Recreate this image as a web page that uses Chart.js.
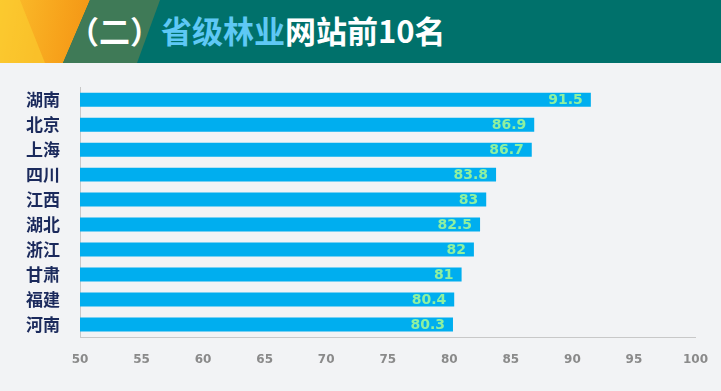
<!DOCTYPE html>
<html>
<head>
<meta charset="utf-8">
<script src="https://cdn.jsdelivr.net/npm/chart.js@4"></script>
<style>
    html, body { margin: 0; padding: 0; }
    body { width: 721px; height: 391px; background: #f2f3f5; position: relative; overflow: hidden; font-family: "Noto Sans CJK SC", sans-serif; }
    #header { position: absolute; left: 0; top: 0; width: 721px; height: 63px; background: #00716b; overflow: hidden; z-index: 2; }
    .deco { position: absolute; top: 0; height: 63px; }
    #d1 { left: 0; width: 100px; background: linear-gradient(100deg, #fbc02d, #f7a21b 60%, #f28f12); clip-path: polygon(0 0, 90px 0, 63px 63px, 0 63px); }
    #d2 { left: 0; width: 60px; background: #fcd232; opacity: 0.55; clip-path: polygon(0 0, 20px 0, 45px 63px, 0 63px); }
    #d3 { left: 0; width: 170px; background: #3f7a57; clip-path: polygon(90px 0, 160px 0, 137px 63px, 63px 63px); }
    #title { position: absolute; left: 68px; top: 7px; font-size: 31px; font-weight: bold; color: #fff; white-space: nowrap; }
    #title .hl { color: #5ec8f5; }
    #chart-box { position: absolute; left: 0; top: 57px; width: 724px; height: 334px; z-index: 1; }
</style>
</head>
<body>
<div id="header">
    <div class="deco" id="d1"></div>
    <div class="deco" id="d2"></div>
    <div class="deco" id="d3"></div>
    <div id="title">（二）<span class="hl">省级林业</span>网站前10名</div>
</div>
<div id="chart-box"><canvas id="rank-chart"></canvas></div>
<script>
//data
const PROVINCES = ['湖南', '北京', '上海', '四川', '江西', '湖北', '浙江', '甘肃', '福建', '河南'];
const SCORES = [91.5, 86.9, 86.7, 83.8, 83, 82.5, 82, 81, 80.4, 80.3];

//colors
const BAR_COLOR = '#00aeef';
const VALUE_COLOR = '#8ef0a0';
const LABEL_COLOR = '#1b2a5c';
const TICK_COLOR = '#8a8a8a';

//value labels drawn inside the bar end
const valueLabels = {
    id: 'valueLabels',
    afterDatasetsDraw(chart) {
        const ctx = chart.ctx;
        const meta = chart.getDatasetMeta(0);
        ctx.save();
        ctx.font = 'bold 14px "DejaVu Sans", sans-serif';
        ctx.fillStyle = VALUE_COLOR;
        ctx.textAlign = 'right';
        ctx.textBaseline = 'middle';
        meta.data.forEach((bar, i) => {
            ctx.fillText(String(SCORES[i]), bar.x - 8, bar.y + 1);
        });
        ctx.restore();
    }
};

new Chart(document.getElementById('rank-chart'), {
    type: 'bar',
    data: {
        labels: PROVINCES,
        datasets: [{
            data: SCORES,
            backgroundColor: BAR_COLOR,
            borderWidth: 0,
            categoryPercentage: 1,
            barPercentage: 0.56
        }]
    },
    options: {
        indexAxis: 'y',
        responsive: true,
        maintainAspectRatio: false,
        animation: false,
        layout: { padding: { top: 9, right: 23, left: 0, bottom: 0 } },
        plugins: {
            legend: { display: false },
            tooltip: { enabled: false }
        },
        scales: {
            x: {
                min: 50,
                max: 100,
                ticks: {
                    stepSize: 5,
                    color: TICK_COLOR,
                    padding: 16,
                    font: { family: '"DejaVu Sans", sans-serif', size: 12, weight: 'bold' }
                },
                grid: { display: false, drawTicks: false },
                border: { display: true, color: '#c8c8c8', width: 1 },
                afterFit(scale) { scale.height = 54; }
            },
            y: {
                ticks: {
                    color: LABEL_COLOR,
                    padding: 20,
                    font: { family: '"Noto Sans CJK SC", sans-serif', size: 17, weight: 'bold' }
                },
                grid: { display: false, drawTicks: false },
                border: { display: true, color: '#c8c8c8', width: 1 },
                afterFit(scale) { scale.width = 80; }
            }
        }
    },
    plugins: [valueLabels]
});
</script>
</body>
</html>
